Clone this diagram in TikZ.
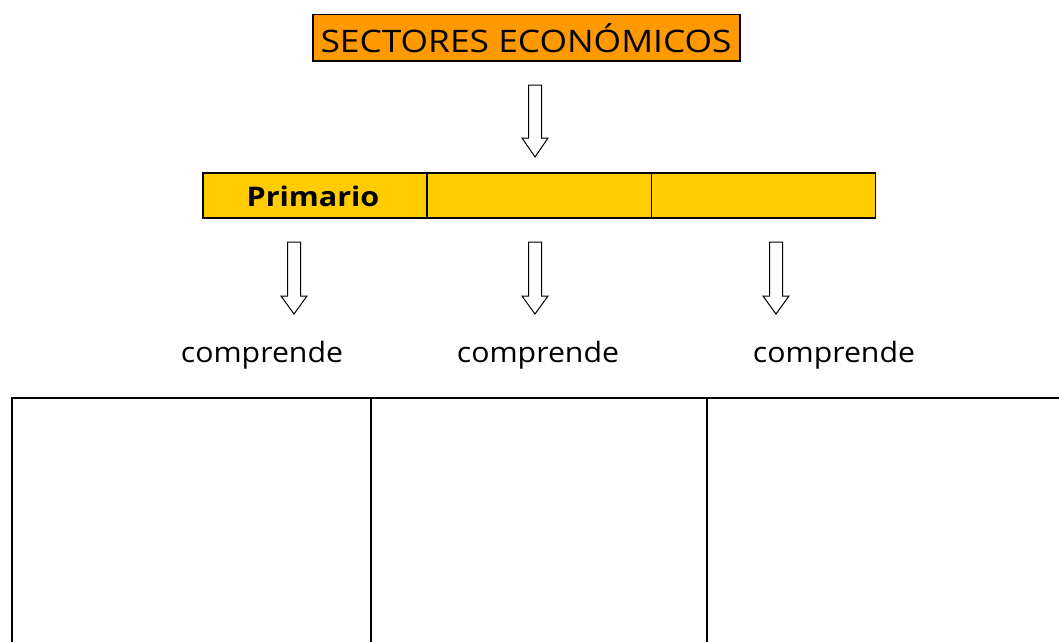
\documentclass[tikz,border=0pt]{standalone}
\usepackage{fontspec}
\setmainfont{Open Sans}
\definecolor{orangefill}{HTML}{FF9900}
\definecolor{yellowfill}{HTML}{FFCC00}
\begin{document}
\begin{tikzpicture}[x=1pt,y=-1pt,
  box/.style={draw=black,line width=1.5pt,inner sep=0pt,anchor=north west},
  blockarrow/.style={draw=black,line width=1pt,fill=white,line join=miter},
  lbl/.style={font=\fontsize{28}{32}\selectfont,inner sep=0pt},
  tableline/.style={draw=black,line width=2pt}]
\useasboundingbox (0,0) rectangle (1059,642);
% title
\node[box,fill=orangefill,minimum width=427pt,minimum height=46pt] (title) at (312,14) {};
\node[font=\fontsize{31}{34}\selectfont,inner sep=0pt] (titletext) at (526,38) {\scalebox{1.14}[1]{SECTORES ECONÓMICOS}};
% bar
\node[box,fill=yellowfill,minimum width=224.3pt,minimum height=45pt] (c1) at (202,172) {};
\node[box,fill=yellowfill,minimum width=224.3pt,minimum height=45pt] (c2) at (426.3,172) {};
\node[box,fill=yellowfill,minimum width=224.3pt,minimum height=45pt] (c3) at (650.6,172) {};
\node[font=\fontsize{27}{30}\selectfont\bfseries,inner sep=0pt] (prim) at (313,196) {\scalebox{1.13}[1]{Primario}};
% block arrows
\newcommand{\blockarrowat}[4]{% x, top, headstart, tip
  \draw[blockarrow] (#1-6.5,#2) -- (#1+6.5,#2) -- (#1+6.5,#3) -- (#1+13,#3) -- (#1,#4) -- (#1-13,#3) -- (#1-6.5,#3) -- cycle;}
\blockarrowat{535}{85}{138}{157}
\blockarrowat{294}{242}{296}{314}
\blockarrowat{535}{242}{296}{314}
\blockarrowat{776}{242}{296}{314}
% labels
\node[lbl] (comp1) at (262,355) {\scalebox{1.08}[1]{comprende}};
\node[lbl] (comp2) at (538,355) {\scalebox{1.08}[1]{comprende}};
\node[lbl] (comp3) at (834,355) {\scalebox{1.08}[1]{comprende}};
% table
\draw[tableline] (1059,398) -- (12,398) -- (12,642);
\draw[tableline] (371,398) -- (371,642);
\draw[tableline] (707,398) -- (707,642);
\end{tikzpicture}
\end{document}
